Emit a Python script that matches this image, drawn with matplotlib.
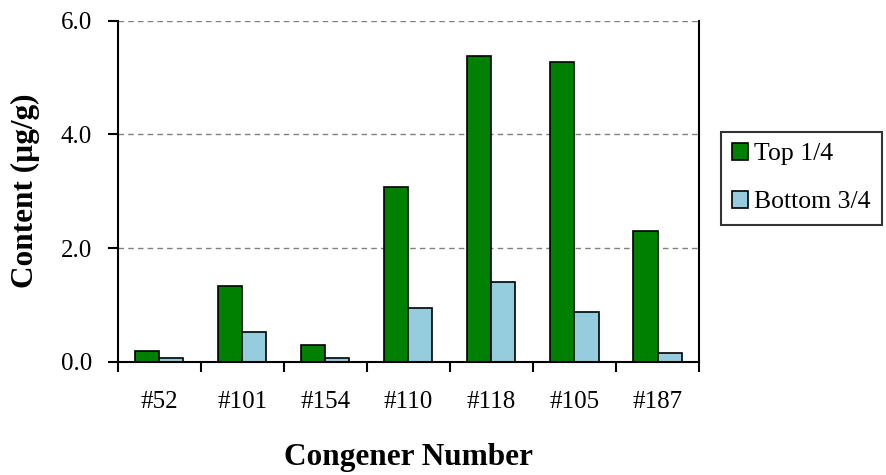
import matplotlib
matplotlib.use("Agg")
import matplotlib.pyplot as plt
import numpy as np

# Chart data
congeners = ["#52", "#101", "#154", "#110", "#118", "#105", "#187"]
top_quarter = [0.19, 1.33, 0.29, 3.07, 5.38, 5.28, 2.30]
bottom_three_quarters = [0.06, 0.53, 0.065, 0.95, 1.41, 0.875, 0.15]
y_ticks = [0.0, 2.0, 4.0, 6.0]

plt.rcParams["font.family"] = ["Liberation Serif", "DejaVu Serif"]

fig = plt.figure(figsize=(8.86, 4.75), dpi=100)
ax = fig.add_axes([0.1328, 0.2385, 0.789 - 0.1328, 0.9564 - 0.2385])

x = np.arange(len(congeners))
width = 0.29
ax.bar(x - width / 2, top_quarter, width, color="#008000", edgecolor="black",
       linewidth=1.2, label="Top 1/4", zorder=3)
ax.bar(x + width / 2, bottom_three_quarters, width, color="#96CDDE",
       edgecolor="black", linewidth=1.2, label="Bottom 3/4", zorder=3)

ax.set_xlim(-0.5, len(congeners) - 0.5)
ax.set_ylim(0, 6)

# gridlines (the one at 6.0 stands in for the top border)
for yv in y_ticks[1:]:
    ax.axhline(yv, color="#808080", linestyle=(0, (4, 3)), linewidth=1.0, zorder=1)

ax.spines["top"].set_visible(False)
for s in ["left", "bottom", "right"]:
    ax.spines[s].set_linewidth(1.5)
    ax.spines[s].set_zorder(4)

ax.set_yticks(y_ticks)
ax.set_yticklabels([f"{v:.1f}" for v in y_ticks])
ax.tick_params(axis="y", direction="out", length=7, width=1.5, pad=11.5, labelsize=18)

# x ticks at category boundaries, labels centred on categories
ax.set_xticks(np.arange(-0.5, len(congeners), 1.0))
ax.set_xticklabels([])
ax.set_xticks(x, minor=True)
ax.set_xticklabels(congeners, minor=True)
ax.tick_params(axis="x", which="major", direction="out", length=7, width=1.5)
ax.tick_params(axis="x", which="minor", length=0, pad=21, labelsize=18)

ax.set_xlabel("Congener Number", fontsize=22.5, fontweight="bold", labelpad=22)
ax.set_ylabel("Content (µg/g)", fontsize=22.5, fontweight="bold", labelpad=15)

leg = fig.legend(loc="upper left", bbox_to_anchor=(0.8134, 0.7227),
                 fontsize=18.5, frameon=True, fancybox=False, shadow=False,
                 handlelength=0.6, handleheight=0.6, handletextpad=0.25,
                 labelspacing=1.0, borderpad=0.45, borderaxespad=0)
leg.get_frame().set_edgecolor("black")
leg.get_frame().set_linewidth(1.5)

fig.savefig("out.png", dpi=100)
